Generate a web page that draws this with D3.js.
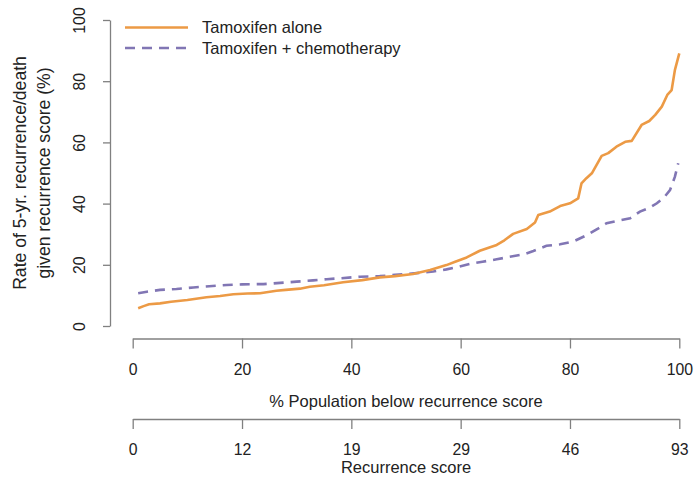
<!DOCTYPE html>
<html>
<head>
<meta charset="utf-8">
<script src="https://cdn.jsdelivr.net/npm/d3@7"></script>
<style>
  body { margin: 0; background: #fff; }
  svg { display: block; font-family: "Liberation Sans", Arial, sans-serif; }
  .axis path, .axis line { stroke: #808080; stroke-width: 1.3; }
  .axis text { fill: #222; font-size: 15.8px; }
  .lab { fill: #222; }
</style>
</head>
<body>
<svg id="chart" width="695" height="479"></svg>
<script>
// Tamoxifen alone: % population below score vs 5-yr rate
const pctAlone = [1, 2, 3, 5, 7, 10, 13.5, 16, 18.4, 21, 23.3, 26.3, 28, 30.6, 32.4, 35, 38.5, 42, 45.2, 48,
  51.3, 54.4, 57.4, 59, 61.1, 63.5, 66.6, 68, 69.6, 72.1, 73.6, 74.2, 76.3, 78.2, 80, 81.5, 82.1, 83, 84,
  85.8, 87, 88.5, 90.1, 91.3, 93.1, 94.5, 95.6, 96.8, 97.8, 98.6, 99.2, 100];
const rateAlone = [5.8, 6.5, 7.1, 7.4, 7.9, 8.5, 9.4, 9.8, 10.4, 10.6, 10.7, 11.5, 11.8, 12.2, 12.8, 13.3, 14.3, 15.0, 15.9, 16.3,
  17.0, 18.3, 19.9, 21.0, 22.4, 24.6, 26.5, 28.0, 30.1, 31.7, 33.8, 36.3, 37.4, 39.2, 40.1, 41.7, 46.6, 48.3, 49.9,
  55.6, 56.5, 58.6, 60.2, 60.5, 65.7, 67.0, 69.0, 71.7, 75.5, 77.1, 83.7, 89.1];

// Tamoxifen + chemotherapy
const pctChemo = [1, 2.6, 5, 8, 11.1, 14, 17.2, 20, 23.9, 27, 30, 33, 35.5, 38, 41.6, 45.2, 48, 52.6, 55, 57.4,
  59.5, 61.7, 64, 66.6, 69, 71.5, 73.3, 75.7, 78.2, 80.6, 83.1, 85.2, 86.7, 89, 91, 92.8, 94.5, 95.9, 97.2,
  98.3, 99.2, 99.8];
const rateChemo = [10.7, 11.2, 11.8, 12.1, 12.6, 13.0, 13.4, 13.6, 13.7, 14.1, 14.5, 14.9, 15.3, 15.6, 16.1, 16.3, 16.7, 17.4, 17.8, 18.5,
  19.3, 20.3, 21.0, 21.8, 22.6, 23.4, 24.5, 26.2, 26.7, 27.6, 29.7, 31.9, 33.6, 34.5, 35.2, 37.4, 38.6, 40.1, 42.0,
  44.4, 48.8, 53.2];

const pctTicks = [0, 20, 40, 60, 80, 100];
const scoreLabels = ["0", "12", "19", "29", "46", "93"];
const rateTicks = [0, 20, 40, 60, 80, 100];
const seriesNames = ["Tamoxifen alone", "Tamoxifen + chemotherapy"];

const orange = "#ec9a45";
const purple = "#8176b4";

const svg = d3.select("#chart");

const x = d3.scaleLinear().domain([0, 100]).range([132.7, 679.3]);
const y = d3.scaleLinear().domain([0, 100]).range([326, 20]);

// y axis, R style with rotated labels
const yAxis = svg.append("g")
  .attr("class", "axis")
  .attr("transform", "translate(110,0)")
  .call(d3.axisLeft(y).tickValues(rateTicks).tickSize(7).tickSizeOuter(0));
yAxis.selectAll("text")
  .attr("x", null).attr("dy", null)
  .attr("text-anchor", "middle")
  .attr("transform", "translate(-25,0) rotate(-90)");

// percent population axis
svg.append("g")
  .attr("class", "axis")
  .attr("transform", "translate(0,338.5)")
  .call(d3.axisBottom(x).tickValues(pctTicks).tickSize(10).tickSizeOuter(0).tickPadding(15));

// recurrence score axis
svg.append("g")
  .attr("class", "axis")
  .attr("transform", "translate(0,419)")
  .call(d3.axisBottom(x).tickValues(pctTicks).tickFormat((d, i) => scoreLabels[i])
    .tickSize(10).tickSizeOuter(0).tickPadding(15));

svg.selectAll(".axis .domain").attr("stroke", "#808080");

svg.append("text").attr("class", "lab")
  .attr("x", 406).attr("y", 407)
  .attr("text-anchor", "middle").style("font-size", "16.5px")
  .text("% Population below recurrence score");

svg.append("text").attr("class", "lab")
  .attr("x", 406).attr("y", 473)
  .attr("text-anchor", "middle").style("font-size", "16.5px")
  .text("Recurrence score");

const yTitle = svg.append("text").attr("class", "lab")
  .attr("text-anchor", "middle").style("font-size", "17.6px")
  .attr("transform", `translate(0,${(y(0) + y(100)) / 2}) rotate(-90)`);
yTitle.append("tspan").attr("x", 0).attr("y", 26).text("Rate of 5-yr. recurrence/death");
yTitle.append("tspan").attr("x", 0).attr("y", 50).text("given recurrence score (%)");

const line = d3.line().x((d) => x(d[0])).y((d) => y(d[1]));

svg.append("path")
  .attr("d", line(d3.zip(pctChemo, rateChemo)))
  .attr("fill", "none")
  .attr("stroke", purple)
  .attr("stroke-width", 2.6)
  .attr("stroke-dasharray", "10,7");

svg.append("path")
  .attr("d", line(d3.zip(pctAlone, rateAlone)))
  .attr("fill", "none")
  .attr("stroke", orange)
  .attr("stroke-width", 2.6)
  .attr("stroke-linejoin", "round");

// legend
const legend = svg.append("g");
const legendColors = [orange, purple];
const legendDash = [null, "10,7"];
seriesNames.forEach((name, i) => {
  const ly = 27.5 + i * 20.5;
  legend.append("line")
    .attr("x1", 125).attr("x2", 188).attr("y1", ly).attr("y2", ly)
    .attr("stroke", legendColors[i]).attr("stroke-width", 2.6)
    .attr("stroke-dasharray", legendDash[i]);
  legend.append("text").attr("class", "lab")
    .attr("x", 202).attr("y", ly + 5.8)
    .style("font-size", "16.5px")
    .text(name);
});
</script>
</body>
</html>
